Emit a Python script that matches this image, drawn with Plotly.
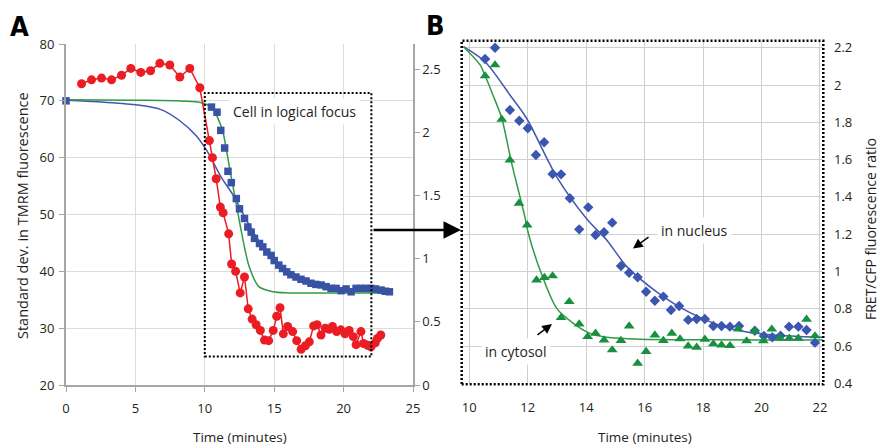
import plotly.graph_objects as go

W, H = 879, 445

# ---------------- Panel A data ----------------
tmrm_t = [1.12, 1.84, 2.56, 3.28, 4.0, 4.67, 5.39, 6.09, 6.76, 7.48, 8.2, 8.92, 9.64,
          10.33, 10.55, 10.82, 11.12, 11.32, 11.72, 11.93, 12.22, 12.55, 12.86, 13.13,
          13.41, 13.7, 14.0, 14.3, 14.6, 14.93, 15.18, 15.42, 15.66, 15.97, 16.33, 16.62,
          16.94, 17.25, 17.53, 17.84, 18.09, 18.37, 18.68, 18.97, 19.2, 19.5, 19.8, 20.1,
          20.4, 20.7, 20.9, 21.25, 21.44, 21.73, 21.97, 22.28, 22.44, 22.68]
tmrm_sd = [73.0, 73.7, 74.0, 73.7, 74.5, 75.7, 75.0, 75.3, 76.6, 76.3, 74.2, 75.7, 72.3,
           63.0, 60.0, 56.3, 51.3, 50.3, 46.6, 41.3, 40.0, 36.2, 39.0, 33.4,
           31.6, 30.6, 29.6, 27.9, 27.8, 29.6, 32.1, 33.6, 29.0, 30.3, 29.4, 27.8,
           26.3, 26.9, 27.6, 30.4, 30.6, 28.8, 30.0, 29.8, 30.3, 29.4, 29.7, 29.0,
           29.6, 28.5, 27.1, 29.4, 27.3, 27.0, 26.7, 27.4, 28.2, 28.8]

focusA_t = [0.0, 10.48, 10.88, 11.15, 11.43, 11.67, 11.91, 12.27, 12.5, 12.86, 13.1, 13.34,
            13.58, 13.94, 14.18, 14.47, 14.78, 15.0, 15.33, 15.6, 15.9, 16.2, 16.57, 16.93,
            17.29, 17.65, 18.0, 18.38, 18.74, 19.1, 19.46, 19.82, 20.18, 20.54, 20.9, 21.26,
            21.6, 21.97, 22.3, 22.7, 23.0, 23.3]
focusA_v = [70.0, 68.9, 68.0, 64.8, 61.7, 57.6, 55.6, 52.8, 51.0, 49.3, 47.8, 46.9,
            45.8, 44.9, 44.3, 43.4, 42.8, 41.9, 41.1, 40.5, 39.9, 39.4, 39.0, 38.6,
            38.3, 37.9, 37.7, 37.6, 37.3, 37.0, 37.0, 36.6, 36.9, 36.4, 37.0, 37.0,
            37.0, 37.0, 36.9, 36.7, 36.5, 36.4]

fitA_blue_t = [0, 2.5, 5, 6.8, 8.2, 9.4, 10.2, 11.2, 12.1, 13, 14, 15, 16, 17, 18, 19, 20, 21, 22, 23.4]
fitA_blue_v = [70.1, 69.8, 69.3, 68.5, 66.5, 63.8, 61.0, 56.5, 53.2, 49.0, 45.0, 42.2, 40.2,
               38.8, 37.8, 37.2, 36.8, 36.6, 36.4, 36.3]

fitA_green_t = [0, 5, 8, 9.5, 10.1, 10.6, 11.0, 11.3, 11.8, 12.3, 12.65, 13.2, 13.9, 14.9, 16, 19, 23.5]
fitA_green_v = [70.2, 70.1, 70.0, 69.8, 69.4, 68.6, 66.6, 64.6, 58.0, 51.4, 46.8, 40.8, 37.3,
                36.4, 36.2, 36.2, 36.2]

A_x_ticks = [0, 5, 10, 15, 20, 25]
A_left_ticks = [20, 30, 40, 50, 60, 70, 80]
A_right_ticks = [0, 0.5, 1, 1.5, 2, 2.5]
A_right_labels = ["0", "0.5", "1", "1.5", "2", "2.5"]

# ---------------- Panel B data ----------------
nuc_t = [10.54, 10.88, 11.39, 11.71, 12.0, 12.28, 12.56, 12.85, 13.14, 13.44, 13.76, 14.07,
         14.32, 14.61, 14.89, 15.19, 15.47, 15.76, 16.05, 16.35, 16.64, 16.9, 17.18, 17.49,
         17.78, 18.06, 18.35, 18.63, 18.92, 19.23, 19.77, 20.08, 20.37, 20.65, 20.94, 21.26,
         21.54, 21.83]
nuc_ratio = [2.14, 2.20, 1.866, 1.809, 1.768, 1.625, 1.693, 1.523, 1.521, 1.393, 1.226, 1.344,
             1.196, 1.21, 1.262, 1.029, 0.993, 0.969, 0.891, 0.843, 0.865, 0.793, 0.815, 0.74,
             0.745, 0.745, 0.707, 0.707, 0.704, 0.707, 0.682, 0.654, 0.647, 0.655, 0.704, 0.704,
             0.686, 0.618]

cyt_t = [10.54, 10.88, 11.11, 11.39, 11.7, 11.98, 12.3, 12.57, 12.85, 13.14, 13.42, 13.76,
         14.05, 14.32, 14.61, 14.89, 15.19, 15.47, 15.76, 16.05, 16.35, 16.64, 16.93, 17.21,
         17.49, 17.78, 18.06, 18.35, 18.63, 18.92, 19.2, 19.49, 19.77, 20.06, 20.35, 20.63,
         20.95, 21.26, 21.54, 21.83]
cyt_ratio = [2.049, 2.108, 1.816, 1.598, 1.366, 1.249, 0.954, 0.967, 0.976, 0.752, 0.838, 0.718,
             0.65, 0.668, 0.632, 0.579, 0.629, 0.707, 0.507, 0.57, 0.659, 0.629, 0.668, 0.638,
             0.6, 0.593, 0.636, 0.611, 0.605, 0.602, 0.691, 0.627, 0.68, 0.627, 0.69, 0.641,
             0.641, 0.641, 0.743, 0.654]

fitB_nuc_t = [9.8, 10.54, 11.39, 11.96, 12.99, 14.05, 14.7, 15.39, 16.41, 17.55, 18.69, 19.5,
              20.4, 21.3, 22.17]
fitB_nuc_v = [2.206, 2.125, 1.947, 1.822, 1.508, 1.276, 1.169, 1.026, 0.891, 0.779, 0.704, 0.675,
              0.659, 0.651, 0.647]

fitB_cyt_t = [9.8, 10.37, 10.54, 10.8, 11.11, 11.45, 11.9, 12.02, 12.42, 12.99, 13.56, 14.13,
              14.7, 15.84, 18.0, 22.17]
fitB_cyt_v = [2.206, 2.108, 2.05, 1.95, 1.822, 1.58, 1.294, 1.205, 1.008, 0.802, 0.722, 0.668,
              0.647, 0.636, 0.633, 0.632]

B_x_ticks = [10, 12, 14, 16, 18, 20, 22]
B_y_ticks = [0.4, 0.6, 0.8, 1.0, 1.2, 1.4, 1.6, 1.8, 2.0, 2.2]
B_y_labels = ["0.4", "0.6", "0.8", "1", "1.2", "1.4", "1.6", "1.8", "2", "2.2"]

# ---------------- styling ----------------
RED = "#ec1c24"
BLUE_SQ = "#3953a4"
BLUE_LINE = "#4356b0"
GREEN_LINE = "#2f9a47"
GREEN_MK = "#17903f"
BLUE_DIA = "#3b56b0"
TXT = "#231f20"
FONT = "Open Sans"
GRID = "#dcdcdc"
AXL = "#a6a6a6"


def px(x):
    return x / W


def py(y):
    return 1 - y / H


fig = go.Figure()

# Panel A traces
fig.add_trace(go.Scatter(x=fitA_blue_t, y=fitA_blue_v, mode="lines", xaxis="x", yaxis="y",
                         line=dict(color=BLUE_LINE, width=1.5, shape="spline", smoothing=0.8),
                         hoverinfo="skip"))
fig.add_trace(go.Scatter(x=fitA_green_t, y=fitA_green_v, mode="lines", xaxis="x", yaxis="y",
                         line=dict(color=GREEN_LINE, width=1.5, shape="spline", smoothing=0.8),
                         hoverinfo="skip"))
fig.add_trace(go.Scatter(x=focusA_t, y=focusA_v, mode="markers", xaxis="x", yaxis="y",
                         marker=dict(symbol="square", size=7.5, color=BLUE_SQ), cliponaxis=False))
fig.add_trace(go.Scatter(x=tmrm_t, y=tmrm_sd, mode="lines+markers", xaxis="x", yaxis="y",
                         line=dict(color=RED, width=1.5),
                         marker=dict(symbol="circle", size=9, color=RED)))
fig.add_trace(go.Scatter(x=[None], y=[None], xaxis="x", yaxis="y2", mode="markers",
                         hoverinfo="skip"))

# Panel B traces
fig.add_trace(go.Scatter(x=fitB_nuc_t, y=fitB_nuc_v, mode="lines", xaxis="x2", yaxis="y3",
                         line=dict(color=BLUE_LINE, width=1.5, shape="spline", smoothing=0.8),
                         hoverinfo="skip"))
fig.add_trace(go.Scatter(x=fitB_cyt_t, y=fitB_cyt_v, mode="lines", xaxis="x2", yaxis="y3",
                         line=dict(color=GREEN_LINE, width=1.5, shape="spline", smoothing=0.8),
                         hoverinfo="skip"))
fig.add_trace(go.Scatter(x=nuc_t, y=nuc_ratio, mode="markers", xaxis="x2", yaxis="y3",
                         marker=dict(symbol="diamond", size=8, color=BLUE_DIA), cliponaxis=False))
fig.add_trace(go.Scatter(x=cyt_t, y=cyt_ratio, mode="markers", xaxis="x2", yaxis="y3",
                         marker=dict(symbol="triangle-up", size=9.5, color=GREEN_MK), cliponaxis=False))

tickfont = dict(family=FONT, size=13, color=TXT)

fig.update_layout(
    width=W, height=H, margin=dict(l=0, r=0, t=0, b=0, pad=0), autosize=False,
    paper_bgcolor="white", plot_bgcolor="white", showlegend=False,
    font=dict(family=FONT, size=13, color=TXT),
    xaxis=dict(domain=[px(66), px(413)], range=[0, 25], tickvals=A_x_ticks, automargin=False,
               showgrid=True, gridcolor=GRID, gridwidth=1, zeroline=False,
               showline=True, linecolor=AXL, linewidth=2, ticks="outside", ticklen=5,
               tickcolor=AXL, tickfont=tickfont, ticklabelstandoff=5, anchor="y"),
    yaxis=dict(domain=[py(385), py(44)], range=[20, 80], tickvals=A_left_ticks, automargin=False,
               showgrid=True, gridcolor=GRID, gridwidth=1, zeroline=False,
               showline=True, linecolor=AXL, linewidth=2, ticks="outside", ticklen=5,
               tickcolor=AXL, tickfont=tickfont, ticklabelstandoff=2, anchor="x"),
    yaxis2=dict(overlaying="y", side="right", range=[0, 2.7], tickvals=A_right_ticks,
                ticktext=A_right_labels, showgrid=False, zeroline=False, automargin=False,
                showline=True, linecolor=AXL, linewidth=1.5, ticks="outside", ticklen=5,
                tickcolor=AXL, tickfont=tickfont, anchor="x"),
    xaxis2=dict(domain=[px(463), px(823)], range=[9.784, 22.103], tickvals=B_x_ticks,
                showgrid=True, gridcolor="#cfcfcf", gridwidth=1.2, zeroline=False,
                automargin=False,
                showline=False, ticks="", tickfont=tickfont, ticklabelstandoff=14, anchor="y3"),
    yaxis3=dict(domain=[py(384), py(41)], range=[0.3962, 2.2365], tickvals=B_y_ticks,
                ticktext=B_y_labels, side="right", showgrid=True, gridcolor="#cfcfcf",
                gridwidth=1.2, zeroline=False, showline=False, ticks="", automargin=False,
                tickfont=tickfont, ticklabelstandoff=10, anchor="x2"),
)

# dotted boxes
fig.add_shape(type="rect", xref="x", yref="y", x0=10, x1=22, y0=25, y1=71.4,
              line=dict(color="black", width=2, dash="2px,2px"))
fig.add_shape(type="rect", xref="paper", yref="paper", x0=px(461.7), x1=px(823.3),
              y0=py(384.3), y1=py(40.7), line=dict(color="black", width=2.5, dash="2px,2px"))

LBL_FONT = "Liberation Sans Narrow, DejaVu Sans Condensed"


def label(text, x, y, size, angle=0, bg=None, family=FONT, color=TXT):
    d = dict(text=text, x=px(x), y=py(y), xref="paper", yref="paper", showarrow=False,
             xanchor="center", yanchor="middle", textangle=angle,
             font=dict(family=family, size=size, color=color))
    if bg:
        d.update(bgcolor=bg, borderpad=3)
    return d


ann = [
    label("<b>A</b>", 19, 26, 27, family=LBL_FONT, color="black"),
    label("<b>B</b>", 435, 25, 27, family=LBL_FONT, color="black"),
    label("Time (minutes)", 240, 437, 13.5),
    label("Time (minutes)", 645, 437, 13.5),
    label("Standard dev. in TMRM fluorescence", 23, 216, 14.5, angle=-90),
    label("FRET/CFP fluorescence ratio", 871, 229, 14, angle=-90),
    label("Cell in logical focus", 294, 111.5, 14, bg="white"),
    label("in nucleus", 694, 230, 14, bg="white"),
    label("in cytosol", 516, 351, 14, bg="white"),
]
# arrows
ann.append(dict(text="", x=px(633), y=py(248.5), xref="paper", yref="paper",
                ax=17, ay=-12.5, axref="pixel", ayref="pixel", showarrow=True,
                arrowhead=2, arrowsize=1.3, arrowwidth=1.5, arrowcolor="black"))
ann.append(dict(text="", x=px(552), y=py(324), xref="paper", yref="paper",
                ax=-16, ay=12, axref="pixel", ayref="pixel", showarrow=True,
                arrowhead=2, arrowsize=1.3, arrowwidth=1.5, arrowcolor="black"))
ann.append(dict(text="", x=px(461), y=py(230), xref="paper", yref="paper",
                ax=-89, ay=0, axref="pixel", ayref="pixel", showarrow=True,
                arrowhead=2, arrowsize=1.4, arrowwidth=2.5, arrowcolor="black"))
fig.update_layout(annotations=ann)

# remove the browser's default 8px page margin so the figure fills the window exactly
fig.write_html("out.html", config={"displayModeBar": False},
               post_script="document.body.style.margin='0';document.body.style.overflow='hidden';")
